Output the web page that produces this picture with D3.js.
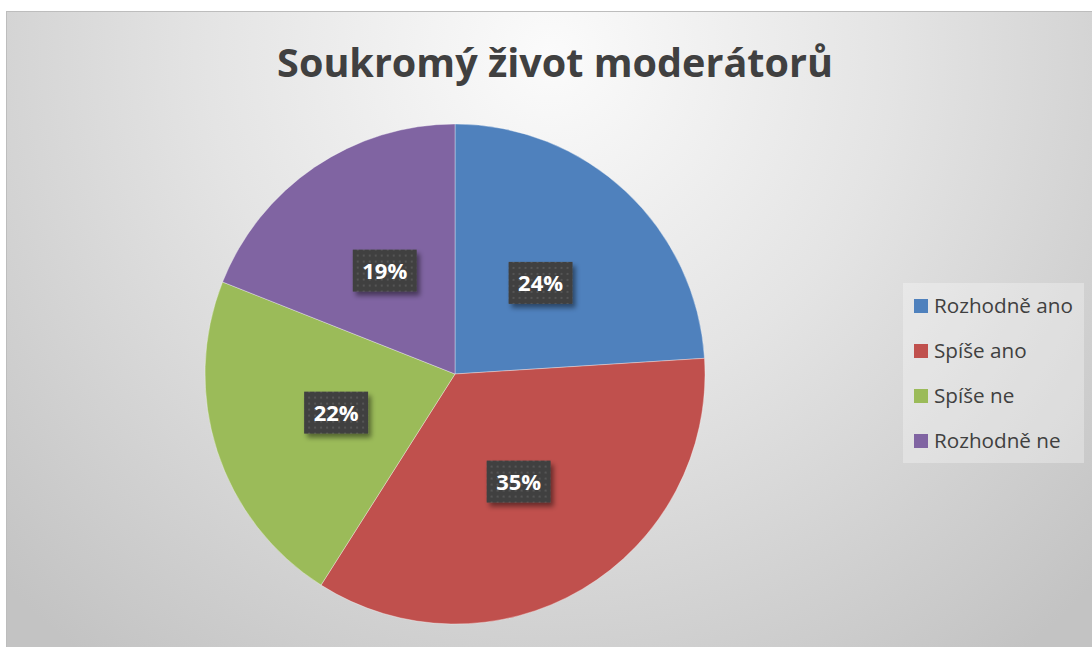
<!DOCTYPE html>
<html><head><meta charset="utf-8">
<script src="https://cdn.jsdelivr.net/npm/d3@7"></script>
<style>body{margin:0;background:#fff}svg{display:block}</style>
</head><body>
<script>
const title = "Soukromý život moderátorů";
const categories = ["Rozhodně ano", "Spíše ano", "Spíše ne", "Rozhodně ne"];
const values = [24, 35, 22, 19];
const colors = ["#4f81bd", "#c0504d", "#9bbb59", "#8064a2"];

const W = 1092, H = 647;
const svg = d3.select("body").append("svg").attr("width", W).attr("height", H);
const defs = svg.append("defs");

const bg = defs.append("radialGradient").attr("id", "bg")
  .attr("gradientUnits", "userSpaceOnUse")
  .attr("cx", 550).attr("cy", 55).attr("r", 760);
bg.append("stop").attr("offset", 0).attr("stop-color", "#fbfbfb");
bg.append("stop").attr("offset", 0.45).attr("stop-color", "#e4e4e4");
bg.append("stop").attr("offset", 1).attr("stop-color", "#c3c3c3");

const pat = defs.append("pattern").attr("id", "dots").attr("patternUnits", "userSpaceOnUse")
  .attr("width", 6).attr("height", 6);
pat.append("rect").attr("width", 6).attr("height", 6).attr("fill", "#404040");
pat.append("rect").attr("x", 2).attr("y", 2).attr("width", 2).attr("height", 2).attr("fill", "#555");

const sh = defs.append("filter").attr("id", "shadow").attr("x", "-30%").attr("y", "-30%").attr("width", "160%").attr("height", "160%");
sh.append("feDropShadow").attr("dx", 3).attr("dy", 4).attr("stdDeviation", 2.5)
  .attr("flood-color", "#000").attr("flood-opacity", 0.45);

svg.append("rect").attr("x", 6.5).attr("y", 11.5).attr("width", W - 6).attr("height", H - 11)
  .attr("fill", "url(#bg)").attr("stroke", "#bdbdbd").attr("stroke-width", 1);

// title
const t = svg.append("text").attr("x", 555).attr("y", 77).attr("text-anchor", "middle")
  .attr("font-family", "Open Sans, sans-serif").attr("font-weight", "bold")
  .attr("fill", "#404040").attr("font-size", 40).text(title);
const tw = t.node().getComputedTextLength();
t.attr("font-size", 40 * 556 / tw);

// pie
const cx = 455, cy = 374, R = 250;
const pie = d3.pie().sort(null).value(d => d)(values);
const arc = d3.arc().innerRadius(0).outerRadius(R);
const g = svg.append("g").attr("transform", `translate(${cx},${cy})`);
g.selectAll("path.slice").data(pie).join("path").attr("class", "slice")
  .attr("d", arc).attr("fill", (d, i) => colors[i])
  .attr("stroke", "rgba(255,255,255,0.35)").attr("stroke-width", 1);

const fmt = d3.format(".0%");
const lab = g.selectAll("g.lab").data(pie).join("g").attr("class", "lab")
  .attr("transform", d => `translate(${arc.centroid(d)})`);
lab.append("rect").attr("x", -32).attr("y", -21).attr("width", 64).attr("height", 42)
  .attr("fill", "url(#dots)").attr("filter", "url(#shadow)");
lab.append("text").attr("text-anchor", "middle").attr("dy", "0.36em")
  .attr("font-family", "Open Sans, sans-serif").attr("font-weight", "bold")
  .attr("font-size", 22).attr("fill", "#fff")
  .text(d => fmt(d.data / d3.sum(values)));

// legend
const lg = svg.append("g");
lg.append("rect").attr("x", 903).attr("y", 283).attr("width", 181).attr("height", 180)
  .attr("fill", "#ffffff").attr("fill-opacity", 0.3);
const items = lg.selectAll("g.it").data(categories).join("g").attr("class", "it")
  .attr("transform", (d, i) => `translate(914,${306 + i * 45})`);
items.append("rect").attr("x", 0).attr("y", -7).attr("width", 14).attr("height", 14)
  .attr("fill", (d, i) => colors[i]);
const lt = items.append("text").attr("x", 20).attr("dy", "0.35em")
  .attr("font-family", "Open Sans, sans-serif").attr("font-size", 18).attr("fill", "#404040")
  .text(d => d);
const lw = lt.nodes()[0].getComputedTextLength();
lt.attr("font-size", 18 * 139 / lw);
</script>
</body></html>
